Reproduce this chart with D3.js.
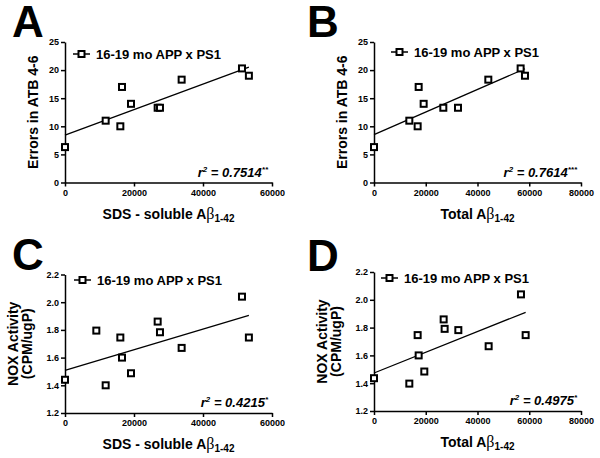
<!DOCTYPE html>
<html><head><meta charset="utf-8">
<script src="https://cdn.jsdelivr.net/npm/d3@7"></script>
<style>
html,body{margin:0;padding:0;background:#fff;}
svg{display:block;font-family:"Liberation Sans",Arial,sans-serif;}
</style></head>
<body><svg id="chart" width="600" height="458"></svg>
<script>
// ---- data ----
const legendLabel = "16-19 mo APP x PS1";
const sdsA    = [0, 11790, 16040, 16520, 19130, 26860, 27530, 33810, 51300, 53300];
const errorsA = [6.3, 11.0, 10.0, 17.0, 14.0, 13.3, 13.3, 18.3, 20.3, 19.0];
const totalB  = [0, 13650, 16870, 17260, 19190, 26790, 32460, 44180, 56670, 58350];
const errorsB = [6.3, 11.0, 10.0, 17.0, 14.0, 13.3, 13.3, 18.3, 20.3, 19.0];
const sdsC    = [0, 9080, 11790, 16040, 16520, 19130, 26860, 27530, 33810, 51300, 53300];
const noxC    = [1.44, 1.795, 1.40, 1.745, 1.60, 1.487, 1.86, 1.783, 1.67, 2.04, 1.745];
const totalD  = [0, 13650, 16870, 17260, 19440, 26920, 27300, 32590, 44310, 56800, 58610];
const noxD    = [1.436, 1.397, 1.746, 1.60, 1.484, 1.859, 1.791, 1.782, 1.666, 2.039, 1.746];
const errTicks = [0, 5, 10, 15, 20, 25];
const noxTicks = [1.2, 1.4, 1.6, 1.8, 2.0, 2.2];
const sdsTicks = [0, 20000, 40000, 60000];
const totTicks = [0, 20000, 40000, 60000, 80000];
const r2Labels = ["0.7514", "0.7614", "0.4215", "0.4975"];
const r2Stars  = ["**", "***", "*", "*"];
const panelLetters = ["A", "B", "C", "D"];

const svg = d3.select("#chart");
const FONT = '"Liberation Sans",Arial,sans-serif';

const panels = [
  {letter:panelLetters[0], xs:sdsA,   ys:errorsA, xTicks:sdsTicks, yTicks:errTicks, xDom:[0,60000], yDom:[0,25],
   xR:[65,272], yR:[182.5,42], lx:12, ly:37, legY:54, legX:73, r2:0, xt:"sds", yt:["Errors in ATB 4-6"], yFmt:d3.format("d")},
  {letter:panelLetters[1], xs:totalB, ys:errorsB, xTicks:totTicks, yTicks:errTicks, xDom:[0,80000], yDom:[0,25],
   xR:[374,581], yR:[182.5,42], lx:307, ly:37, legY:52, legX:391, r2:1, xt:"total", yt:["Errors in ATB 4-6"], yFmt:d3.format("d")},
  {letter:panelLetters[2], xs:sdsC,   ys:noxC,    xTicks:sdsTicks, yTicks:noxTicks, xDom:[0,60000], yDom:[1.2,2.2],
   xR:[65,272], yR:[413,274.5], lx:12, ly:270, legY:280, legX:74, r2:2, xt:"sds", yt:["NOX Activity","(CPM/ugP)"], yFmt:d3.format(".1f")},
  {letter:panelLetters[3], xs:totalD, ys:noxD,    xTicks:totTicks, yTicks:noxTicks, xDom:[0,80000], yDom:[1.2,2.2],
   xR:[374,581], yR:[411,272], lx:307, ly:271, legY:278, legX:381, r2:3, xt:"total", yt:["NOX Activity","(CPM/ugP)"], yFmt:d3.format(".1f")}
];

function regression(xs, ys){
  const mx = d3.mean(xs), my = d3.mean(ys);
  let sxy = 0, sxx = 0;
  xs.forEach((x,i)=>{ sxy += (x-mx)*(ys[i]-my); sxx += (x-mx)*(x-mx); });
  const b = sxy/sxx; return {b, a: my - b*mx};
}

panels.forEach(p => {
  const g = svg.append("g");
  const x = d3.scaleLinear().domain(p.xDom).range(p.xR);
  const y = d3.scaleLinear().domain(p.yDom).range(p.yR);

  // panel letter
  g.append("text").attr("x", p.lx).attr("y", p.ly)
    .attr("font-size", 44).attr("font-weight", "bold").attr("font-family", FONT)
    .text(p.letter);

  // axes
  const ax = g.append("g").attr("transform", `translate(0,${p.yR[0]})`)
    .call(d3.axisBottom(x).tickValues(p.xTicks).tickSize(4).tickSizeOuter(0).tickPadding(3).tickFormat(d3.format("d")));
  const ay = g.append("g").attr("transform", `translate(${p.xR[0]},0)`)
    .call(d3.axisLeft(y).tickValues(p.yTicks).tickSize(4).tickSizeOuter(0).tickPadding(2).tickFormat(p.yFmt));
  [ax, ay].forEach(a => {
    a.selectAll("path, line").attr("stroke", "#000").attr("stroke-width", 1.5);
    a.selectAll("text").attr("font-size", 9).attr("font-weight", "bold").attr("font-family", FONT).attr("fill", "#000");
  });

  // regression line
  const r = regression(p.xs, p.ys);
  const x0 = d3.min(p.xs), x1 = d3.max(p.xs);
  g.append("line")
    .attr("x1", x(x0)).attr("y1", y(r.a + r.b*x0))
    .attr("x2", x(x1)).attr("y2", y(r.a + r.b*x1))
    .attr("stroke", "#000").attr("stroke-width", 1.3);

  // points
  const S = 6;
  g.selectAll("rect.pt").data(p.xs.map((d,i)=>[d, p.ys[i]])).join("rect")
    .attr("class","pt")
    .attr("x", d => x(d[0]) - S/2).attr("y", d => y(d[1]) - S/2)
    .attr("width", S).attr("height", S)
    .attr("fill", "#fff").attr("stroke", "#000").attr("stroke-width", 2);

  // legend
  g.append("line").attr("x1", p.legX).attr("x2", p.legX+17).attr("y1", p.legY).attr("y2", p.legY)
    .attr("stroke", "#000").attr("stroke-width", 1.5);
  g.append("rect").attr("x", p.legX+8.5-S/2).attr("y", p.legY-S/2).attr("width", S).attr("height", S)
    .attr("fill", "#fff").attr("stroke", "#000").attr("stroke-width", 2);
  g.append("text").attr("x", p.legX+23).attr("y", p.legY+5)
    .attr("font-size", 13).attr("font-weight", "bold").attr("font-family", FONT)
    .text(legendLabel);

  // r^2 label
  const rt = g.append("text").attr("x", p.xR[1]-4).attr("y", p.yR[0]-6)
    .attr("text-anchor", "end").attr("font-size", 13).attr("font-weight", "bold")
    .attr("font-style", "italic").attr("font-family", FONT);
  rt.append("tspan").text("r");
  rt.append("tspan").attr("font-size", 8).attr("dy", -5).text("2");
  rt.append("tspan").attr("dy", 5).text(" = " + r2Labels[p.r2]);
  rt.append("tspan").attr("font-size", 8).attr("dy", -5).text(r2Stars[p.r2]);

  // x title
  const cx = (p.xR[0]+p.xR[1])/2;
  const xtT = g.append("text").attr("x", cx).attr("y", p.yR[0]+36)
    .attr("text-anchor", "middle").attr("font-size", 14).attr("font-weight", "bold").attr("font-family", FONT);
  xtT.append("tspan").text(p.xt === "sds" ? "SDS - soluble A" : "Total A");
  xtT.append("tspan").attr("font-family", '"Liberation Serif","DejaVu Serif",serif').attr("font-size", 16).attr("font-weight","normal").text("β");
  xtT.append("tspan").attr("font-size", 10).attr("dy", 3).text("1-42");

  // y title
  const cy = (p.yR[0]+p.yR[1])/2;
  if (p.yt.length === 1) {
    g.append("text").attr("transform", `translate(${p.xR[0]-27},${cy}) rotate(-90)`)
      .attr("text-anchor", "middle").attr("font-size", 14).attr("font-weight", "bold").attr("font-family", FONT)
      .text(p.yt[0]);
  } else {
    p.yt.forEach((t, i) => {
      g.append("text").attr("transform", `translate(${p.xR[0]-47+i*14},${cy}) rotate(-90)`)
        .attr("text-anchor", "middle").attr("font-size", 14).attr("font-weight", "bold").attr("font-family", FONT)
        .text(t);
    });
  }
});
</script></body></html>
